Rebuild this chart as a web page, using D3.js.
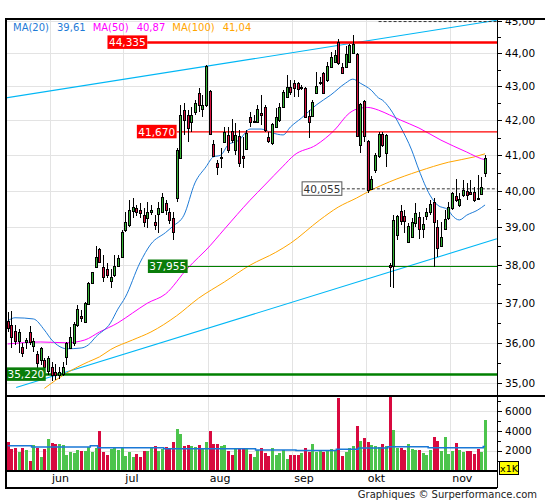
<!DOCTYPE html>
<html><head><meta charset="utf-8">
<script src="https://cdn.jsdelivr.net/npm/d3@7/dist/d3.min.js"></script>
<style>
html,body{margin:0;padding:0;background:#fff;}
svg{display:block;}
text{font-family:"DejaVu Sans",Verdana,sans-serif;}
</style></head>
<body><svg id="chart" width="545" height="500"></svg>
<script>
// ---------- DATA ----------
const opens = [36.55,36.45,36.30,36.05,35.90,36.03,36.28,35.92,35.73,35.58, 35.58,35.31,35.39,35.29,35.21,35.24,35.65,35.88,36.00,36.45, 36.68,36.53,36.98,37.52,37.94,38.42,37.94,37.90,37.57,37.73, 37.97,38.20,38.92,39.06,39.44,39.52,39.47,39.33,39.25,39.41, 39.15,39.36,39.41,39.66,39.41,39.25,39.79,40.92,42.30,42.16, 41.95,42.24,42.81,42.33,42.45,42.86,41.32,40.78,40.92,41.37, 41.58,41.69,41.15,41.55,40.97,41.18,42.10,41.95,41.95,42.21, 42.39,41.52,41.34,41.81,42.01,42.39,42.70,42.98,43.10,43.10, 42.95,42.95,42.13,42.13,42.80,43.10,43.40,43.19,43.58,43.74, 44.35,43.58,43.58,43.74,44.01,43.98,41.29,42.57,41.40,40.05, 40.58,40.97,41.60,41.06,37.99,37.97,38.79,39.44,39.31,38.61, 38.73,39.12,39.28,38.95,39.31,39.42,39.69,39.00,38.49,38.95, 39.25,39.52,39.85,39.61,39.88,39.99,39.97,39.97,39.80,39.91, 40.50];
const highs = [36.78,36.80,36.45,36.35,36.00,36.12,36.42,36.12,35.80,35.90, 35.63,35.66,35.53,35.48,35.39,35.53,36.02,36.40,36.52,36.95, 36.83,37.03,37.55,37.82,38.50,38.45,38.26,38.05,37.90,38.26, 38.26,38.92,39.42,39.74,39.80,39.61,39.66,39.52,39.69,39.61, 39.33,39.69,39.94,39.74,39.52,39.41,41.20,42.45,42.50,42.30, 42.39,42.60,42.95,42.75,43.66,42.89,41.43,40.86,41.20,41.81, 41.81,42.04,41.93,41.72,41.52,41.72,42.24,42.16,42.45,42.75, 42.45,41.66,41.93,42.36,42.51,42.89,43.34,43.19,43.19,43.13, 43.04,42.98,42.30,42.60,43.43,43.28,43.43,43.73,44.04,44.10, 44.43,43.70,44.22,44.28,44.56,44.00,42.51,42.60,41.43,40.41, 41.06,41.66,41.66,41.60,38.05,39.33,39.33,39.61,39.47,39.12, 39.25,39.66,39.41,39.28,39.52,39.74,39.80,39.20,39.15,39.47, 39.69,39.97,40.33,39.94,40.30,40.22,40.30,40.11,40.44,40.39, 41.00];
const lows = [36.27,35.88,35.95,35.75,35.65,35.85,35.95,35.78,35.38,35.46, 35.29,35.21,35.05,35.09,35.10,35.17,35.46,35.85,35.92,36.40, 36.53,36.50,36.95,37.50,37.92,38.04,37.55,37.65,37.39,37.68, 37.95,38.18,38.87,39.00,39.25,39.30,39.25,39.00,38.98,39.33, 38.92,38.85,39.39,39.33,39.08,38.66,39.69,40.92,41.58,41.37, 41.66,42.16,42.24,42.10,42.40,41.57,40.94,40.44,40.63,41.34, 41.06,41.34,41.00,40.66,40.63,41.15,41.81,41.93,41.93,41.87, 41.66,41.34,41.29,41.78,41.95,42.36,42.67,42.75,42.70,42.70, 42.89,42.07,41.49,42.10,42.80,43.04,42.78,43.13,43.55,43.71, 43.66,43.40,43.55,43.71,43.98,41.52,41.06,41.37,39.94,40.02, 40.50,40.92,41.23,40.66,37.42,37.40,38.66,39.06,38.85,38.58, 38.70,39.00,38.69,38.71,39.20,39.33,37.95,38.21,38.47,38.92, 39.20,39.47,39.69,39.55,39.83,39.74,39.88,39.69,39.74,39.88, 40.39];
const closes = [36.37,36.15,36.05,36.27,35.75,36.08,36.02,36.05,35.50,35.87, 35.39,35.63,35.21,35.21,35.29,35.39,35.99,36.15,36.47,36.86, 36.63,37.00,37.52,37.80,38.21,38.07,37.68,37.73,37.69,37.97, 38.18,38.87,39.14,39.47,39.55,39.41,39.39,39.14,39.41,39.47, 39.06,39.52,39.82,39.47,39.20,38.87,41.15,42.16,42.01,41.78, 42.16,42.51,42.45,42.45,43.61,41.60,40.97,40.66,40.95,41.66, 41.15,41.43,41.58,40.78,40.92,41.63,41.95,41.98,42.33,42.16, 41.72,41.40,41.90,42.10,42.39,42.83,42.98,42.83,42.95,42.92, 42.98,42.10,41.95,42.54,43.01,43.13,42.80,43.61,43.88,43.95, 43.71,43.40,43.98,44.25,44.28,41.55,42.48,41.55,40.02,40.33, 41.00,41.60,41.29,41.58,37.95,39.20,39.30,39.17,39.17,39.03, 39.15,39.39,38.95,39.08,39.41,39.63,39.14,38.44,38.73,39.22, 39.55,39.94,39.74,39.77,40.02,39.88,39.91,39.74,39.77,40.11, 40.92];
const volumes = [2900,2200,2300,1900,2300,2100,1000,2600,2300,1400, 2200,3200,2800,2700,2700,2600,1600,1900,1800,2100, 2000,2000,2400,1900,2300,4000,1900,1600,2200,2400, 2100,2300,1500,1900,1400,1700,1400,2000,2000,2300, 2500,2000,2200,2400,2300,2900,4200,3700,2500,2600, 2500,2400,2600,2300,2900,4000,2700,2700,2500,2600, 2000,1600,2300,2300,2300,2200,1700,1400,2100,2300, 1800,1500,2300,1600,1800,2100,1200,1600,1600,1600, 1800,2300,1900,2700,1900,2100,1900,2000,2200,2100, 7300,1500,1900,2300,2500,4500,3000,3300,2900,2600, 2500,2400,2700,2500,7500,4100,2300,2300,2100,2700, 2200,2100,2100,1800,1600,2100,3400,3000,2000,3400, 1700,2000,2800,2100,1900,2000,2000,1700,2200,1900, 5100];
const volumeMA = [2490,2490,2490,2490,2490,2490,2490,2350,2350,2350, 2350,2350,2350,2350,2350,2350,2350,2350,2350,2350, 2350,2350,2350,2490,2490,2280,2280,2280,2280,2280, 2280,2280,2280,2280,2280,2280,2280,2280,2280,2280, 2280,2280,2280,2180,2180,2180,2180,2180,2180,2180, 2180,2180,2180,2180,2180,2180,2180,2180,2180,2180, 2180,2180,2180,2180,2180,2180,2180,2180,2070,2070, 2070,2070,2070,2070,2070,2070,2070,2070,2070,2000, 2000,2000,2000,2000,2000,2000,2000,2000,2000,2000, 2140,2140,2140,2140,2140,2140,2250,2250,2250,2250, 2250,2250,2250,2250,2380,2380,2380,2380,2380,2380, 2380,2380,2380,2380,2380,2280,2280,2280,2280,2280, 2280,2280,2280,2280,2280,2280,2280,2280,2280,2280, 2420];
// moving averages: [candle index, value]
const ma20 = [[0,36.55],[2,36.63],[7,36.60],[10,36.32],[12,36.07],[15,35.87],[16,35.85],[20,35.87],[22,35.95],[24,36.15],[28,36.50],[30,36.85],[32,37.15],[36,38.05],[39,38.55],[43,38.86],[45,39.03],[48,39.33],[51,40.22],[54,40.67],[56,40.95],[58,41.0],[60,41.29],[63,41.43],[66,41.75],[69,41.75],[72,41.64],[75,41.58],[77,41.81],[80,42.07],[84,42.45],[88,42.75],[92,43.10],[94,43.22],[96,43.10],[99,42.89],[101,42.66],[102,42.60],[104,42.36],[107,41.81],[110,41.15],[112,40.58],[115,39.88],[117,39.61],[120,39.47],[121,39.33],[123,39.20],[125,39.33],[128,39.47],[130,39.61]];
const ma50 = [[0,35.97],[9,36.02],[16,36.0],[21,36.07],[25,36.27],[30,36.50],[34,36.75],[38,37.0],[43,37.24],[49,37.91],[52,38.2],[54,38.39],[59,38.95],[66,39.74],[70,40.16],[75,40.69],[78,41.0],[84,41.29],[89,41.72],[93,42.21],[95,42.33],[98,42.38],[101,42.30],[104,42.16],[107,42.01],[112,41.78],[118,41.43],[125,41.09],[129,40.90],[130,40.87]];
const ma100 = [[10,34.88],[16,35.25],[22,35.53],[25,35.65],[28,35.83],[34,36.07],[39,36.27],[46,36.68],[52,37.13],[59,37.55],[66,37.99],[73,38.33],[77,38.57],[85,39.20],[90,39.55],[95,39.80],[99,40.02],[104,40.25],[112,40.55],[120,40.80],[127,40.95],[130,41.04]];
const maNames = ['MA(20)','MA(50)','MA(100)'];
const monthLabels = ['jun','jul','aug','sep','okt','nov'];
const monthStartIdx = [12,32,55,78,98,121];
const priceTicks = [35,36,37,38,39,40,41,42,43,44,45];
const priceMinorTicks = [35.5,36.5,37.5,38.5,39.5,40.5,41.5,42.5,43.5,44.5];
const volumeTicks = [2000,4000,6000];
const volumeMinorTicks = [1000,3000,5000,7000];
const levelValues = [44.335, 41.670, 40.055, 37.955, 35.220, 44.98];
const levelLabels = ['44,335','41,670','40,055','37,955','35,220', null];
const levelStartIdx = [38, 46, 91, 49, 10, 101];
const levelKinds = ['resMajor','res','pivot','sup','supMajor','pivot'];
const trendFrom = [[-0.5, 42.66],[2.3, 34.90]];
const trendTo = [[133.2, 45.02],[133.2, 38.69]];

// ---------- LAYOUT ----------
const N = closes.length;
const L = 6, R = 497, T = 19, PB = 395.5, VB = 471, XB = 487.5;
const svg = d3.select('#chart');
const x = d3.scaleLinear().domain([-0.5, N - 0.5]).range([5.86, 5.86 + 3.672 * N]);
const y = d3.scaleLog().domain([34.72, 45.06]).range([395, 19]);
const yv = d3.scaleLinear().domain([0, 7517]).range([470.5, 395.7]);
const fmt = v => d3.format('.2f')(v).replace('.', ',');

const defs = svg.append('defs');
defs.append('clipPath').attr('id','cp').append('rect').attr('x',L).attr('y',T).attr('width',R-L).attr('height',PB-T);
defs.append('clipPath').attr('id','cv').append('rect').attr('x',L).attr('y',PB).attr('width',R-L).attr('height',VB-PB);
defs.append('clipPath').attr('id','ca').append('rect').attr('x',R).attr('y',T+1).attr('width',545-R).attr('height',500);

const GREEN = '#36b336', RED = '#d6113f', VGREEN = '#4cc44c', VRED = '#d8093f';
const gridCol = '#e3e3e3';

// gridlines
const grid = svg.append('g').attr('shape-rendering','crispEdges').attr('stroke',gridCol).attr('stroke-width',1);
priceTicks.forEach(v => { const yy = Math.round(y(v)) + 0.5; if (yy > T + 2) grid.append('line').attr('x1',L).attr('x2',R).attr('y1',yy).attr('y2',yy); });
volumeTicks.forEach(v => { const yy = Math.round(yv(v)) + 0.5; grid.append('line').attr('x1',L).attr('x2',R).attr('y1',yy).attr('y2',yy); });
monthStartIdx.forEach(i => { const xx = Math.round(x(i - 0.5)) + 0.5; grid.append('line').attr('x1',xx).attr('x2',xx).attr('y1',T).attr('y2',VB); });

// price panel
const pg = svg.append('g').attr('clip-path','url(#cp)');
trendFrom.forEach((a, k) => {
  const b = trendTo[k];
  pg.append('line').attr('x1',x(a[0])).attr('y1',y(a[1])).attr('x2',x(b[0])).attr('y2',y(b[1]))
    .attr('stroke','#00b7f5').attr('stroke-width',1.1);
});
const maColors = ['#1f7bd6','#ff00ff','#ffa500'];
const maSeries = [ma20, ma50, ma100];
[2,1,0].forEach(k => {
  pg.append('path').attr('d', d3.line().x(d => x(d[0])).y(d => y(d[1])).curve(d3.curveMonotoneX)(maSeries[k]))
    .attr('fill','none').attr('stroke', maColors[k]).attr('stroke-width',1);
});
levelValues.forEach((v, k) => {
  const kind = levelKinds[k];
  const yy = y(v);
  const x0 = x(levelStartIdx[k]);
  let col = '#000', w = 1, dash = null;
  if (kind === 'resMajor') { col = '#ff0000'; w = 2.5; }
  if (kind === 'res') { col = '#ff0000'; w = 1.2; }
  if (kind === 'sup') { col = '#008000'; w = 1.2; }
  if (kind === 'supMajor') { col = '#008000'; w = 2.5; }
  if (kind === 'pivot') { col = '#333'; w = 1; dash = '3,2'; }
  const ln = pg.append('line').attr('x1',x0).attr('x2',R).attr('y1',yy).attr('y2',yy)
    .attr('stroke',col).attr('stroke-width',w);
  if (dash) ln.attr('stroke-dasharray',dash);
});
const cg = pg.append('g').attr('shape-rendering','crispEdges');
d3.range(N).forEach(i => {
  const c = Math.round(x(i));
  const up = closes[i] >= opens[i];
  cg.append('line').attr('x1',c+0.5).attr('x2',c+0.5).attr('y1',y(highs[i])).attr('y2',y(lows[i])).attr('stroke','#000');
  const yt = Math.round(y(Math.max(opens[i],closes[i])));
  const yb = Math.round(y(Math.min(opens[i],closes[i])));
  cg.append('rect').attr('x',c-0.5).attr('y',yt+0.5).attr('width',2).attr('height',Math.max(1,yb-yt))
    .attr('fill', up ? GREEN : RED).attr('stroke','#000').attr('stroke-width',1);
});
levelValues.forEach((v, k) => {
  if (!levelLabels[k]) return;
  const kind = levelKinds[k];
  const yy = y(v);
  const x1 = x(levelStartIdx[k]);
  const g = svg.append('g');
  const t = g.append('text').attr('y', yy + 3.8).attr('font-size','10.5px').text(levelLabels[k]);
  const tw = t.node().getComputedTextLength();
  const bx = Math.max(L, x1 - tw - 3);
  const fill = kind === 'pivot' ? '#fff' : (kind.startsWith('res') ? '#ff0000' : '#0a7d0a');
  g.insert('rect','text').attr('x',bx).attr('y',yy - 7).attr('width',tw + 3).attr('height',13.5)
    .attr('fill',fill).attr('stroke', kind === 'pivot' ? '#555' : 'none');
  t.attr('x', bx + 1.5).attr('fill', kind === 'pivot' ? '#333' : '#fff');
});

// volume panel
const vg = svg.append('g').attr('clip-path','url(#cv)');
vg.append('g').attr('shape-rendering','crispEdges').selectAll('rect').data(d3.range(N)).join('rect')
  .attr('x', i => Math.round(x(i)) - 1).attr('width', 3)
  .attr('y', i => yv(volumes[i])).attr('height', i => yv(0) - yv(volumes[i]))
  .attr('fill', i => closes[i] >= opens[i] ? VGREEN : VRED);
vg.append('path').attr('d', d3.line().x((d,i) => x(i)).y(d => yv(d)).curve(d3.curveStep)(volumeMA))
  .attr('fill','none').attr('stroke','#1a78d6').attr('stroke-width',1.5);

// frame
const fr = svg.append('g').attr('stroke','#000').attr('shape-rendering','crispEdges');
fr.append('line').attr('x1',L-1).attr('x2',545).attr('y1',T).attr('y2',T).attr('stroke-width',2);
fr.append('line').attr('x1',L).attr('x2',L).attr('y1',T).attr('y2',XB+1).attr('stroke-width',2);
fr.append('line').attr('x1',L).attr('x2',545).attr('y1',PB).attr('y2',PB).attr('stroke-width',2);
fr.append('line').attr('x1',L).attr('x2',R).attr('y1',VB).attr('y2',VB).attr('stroke-width',2);
fr.append('line').attr('x1',L).attr('x2',R).attr('y1',XB).attr('y2',XB).attr('stroke-width',2);
fr.append('line').attr('x1',R+0.5).attr('x2',R+0.5).attr('y1',T).attr('y2',XB).attr('stroke-width',1);

// price axis
const ag = svg.append('g').attr('clip-path','url(#ca)');
const pa = ag.append('g').attr('transform',`translate(${R},0)`)
  .call(d3.axisRight(y).tickValues(priceTicks).tickSize(5).tickPadding(3).tickFormat(fmt));
const pm = ag.append('g').attr('transform',`translate(${R},0)`)
  .call(d3.axisRight(y).tickValues(priceMinorTicks).tickSize(4).tickFormat(''));
[pa, pm].forEach(a => { a.select('.domain').remove(); a.selectAll('text').attr('font-size','10.5px').attr('font-family','"DejaVu Sans",Verdana,sans-serif').attr('fill','#000'); a.selectAll('line').attr('shape-rendering','crispEdges'); });
const va = svg.append('g').attr('transform',`translate(${R},0)`)
  .call(d3.axisRight(yv).tickValues(volumeTicks).tickSize(5).tickPadding(3).tickFormat(d3.format('d')));
const vm = svg.append('g').attr('transform',`translate(${R},0)`)
  .call(d3.axisRight(yv).tickValues(volumeMinorTicks).tickSize(4).tickFormat(''));
[va, vm].forEach(a => { a.select('.domain').remove(); a.selectAll('text').attr('font-size','10.5px').attr('font-family','"DejaVu Sans",Verdana,sans-serif').attr('fill','#000'); a.selectAll('line').attr('shape-rendering','crispEdges'); });
svg.append('rect').attr('x',499.5).attr('y',461.5).attr('width',19).attr('height',13).attr('fill','#ffff00').attr('stroke','#000');
svg.append('text').attr('x',509).attr('y',472).attr('text-anchor','middle').attr('font-size','9.5px').text('x1K');

// month labels
monthStartIdx.forEach((i, k) => {
  svg.append('text').attr('x', x(i - 0.5) + 2).attr('y', 482).attr('font-size','11px').attr('fill','#000').text(monthLabels[k]);
});

// legend
let lx = 13;
maSeries.forEach((s, k) => {
  const col = maColors[k];
  const t1 = svg.append('text').attr('x',lx).attr('y',31).attr('font-size','10px').attr('fill',col).text(maNames[k]);
  lx += t1.node().getComputedTextLength() + 8;
  const t2 = svg.append('text').attr('x',lx).attr('y',31).attr('font-size','10px').attr('fill',col).text(fmt(s[s.length-1][1]));
  lx += t2.node().getComputedTextLength() + 7;
});

svg.append('text').attr('x',537).attr('y',498).attr('text-anchor','end').attr('font-size','10px').attr('fill','#222')
  .text('Graphiques © Surperformance.com');
</script>
</body></html>
